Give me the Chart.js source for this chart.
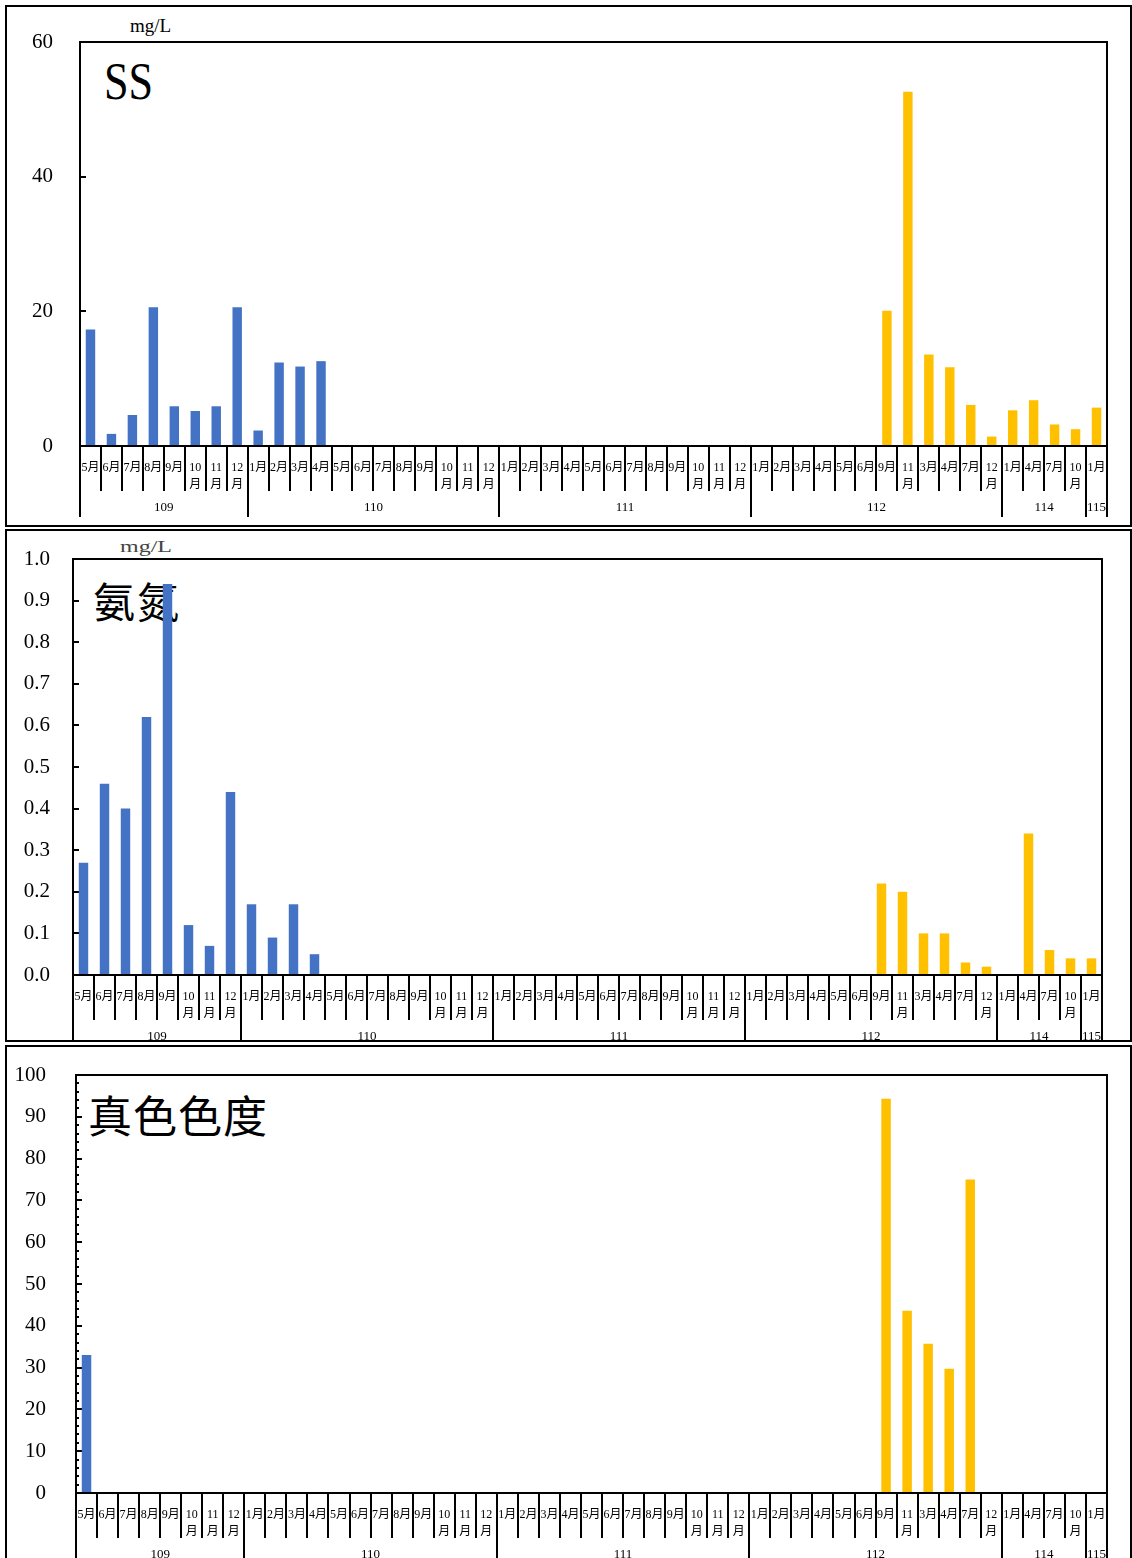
<!DOCTYPE html>
<html>
<head>
<meta charset="utf-8">
<script src="https://cdn.jsdelivr.net/npm/chart.js@4/dist/chart.umd.min.js"></script>
<style>
  body { margin: 0; background: #fff; width: 1132px; height: 1558px; overflow: hidden; position: relative; }
  .panel { position: absolute; left: 5px; width: 1123px; border: 2px solid #000; background: #fff; }
  .panel canvas { position: absolute; left: 0; top: 0; }
  .texto { position: absolute; line-height: 1; color: #000; white-space: nowrap; }
  .serif { font-family: "Liberation Serif", "Times New Roman", serif; }
  .cjk { font-family: "Noto Sans CJK TC", "Noto Sans CJK SC", sans-serif; }
</style>
</head>
<body>

<div class="panel" style="top:5px;height:518px;">
  <div class="texto serif" style="left:123px;top:9px;font-size:19px;">mg/L</div>
  <div class="texto serif" style="left:97px;top:49px;font-size:52px;transform:scaleX(0.85);transform-origin:left;">SS</div>
  <canvas id="graficaSS" width="1123" height="518"></canvas>
</div>

<div class="panel" style="top:529px;height:509px;">
  <div class="texto serif" style="left:113px;top:8px;font-size:16px;color:#444;transform:scaleX(1.5);transform-origin:left;">mg/L</div>
  <div class="texto cjk" style="left:86px;top:48px;font-size:42px;letter-spacing:2px;">氨氮</div>
  <canvas id="graficaNH3" width="1123" height="509"></canvas>
</div>

<div class="panel" style="top:1045px;height:520px;">
  <div class="texto cjk" style="left:81px;top:45px;font-size:44px;letter-spacing:1px;">真色色度</div>
  <canvas id="graficaColor" width="1123" height="511"></canvas>
</div>

<script>
// 年份與月份 (x 軸)
const yearGroups = ["109", "110", "111", "112", "114", "115"];
const monthsByYear = [
    ["5月", "6月", "7月", "8月", "9月", "10月", "11月", "12月"],
    ["1月", "2月", "3月", "4月", "5月", "6月", "7月", "8月", "9月", "10月", "11月", "12月"],
    ["1月", "2月", "3月", "4月", "5月", "6月", "7月", "8月", "9月", "10月", "11月", "12月"],
    ["1月", "2月", "3月", "4月", "5月", "6月", "9月", "11月", "3月", "4月", "7月", "12月"],
    ["1月", "4月", "7月", "10月"],
    ["1月"]
];

// 監測值
const ssValues = [
    17.3, 1.8, 4.6, 20.6, 5.9, 5.2, 5.9, 20.6,
    2.3, 12.4, 11.8, 12.6, null, null, null, null, null, null, null, null,
    null, null, null, null, null, null, null, null, null, null, null, null,
    null, null, null, null, null, null, 20.1, 52.6, 13.6, 11.7, 6.1, 1.4,
    5.3, 6.8, 3.2, 2.5,
    5.7
];
const nh3Values = [
    0.27, 0.46, 0.40, 0.62, 0.94, 0.12, 0.07, 0.44,
    0.17, 0.09, 0.17, 0.05, null, null, null, null, null, null, null, null,
    null, null, null, null, null, null, null, null, null, null, null, null,
    null, null, null, null, null, null, 0.22, 0.20, 0.10, 0.10, 0.03, 0.02,
    null, 0.34, 0.06, 0.04,
    0.04
];
const colorValues = [
    33, null, null, null, null, null, null, null,
    null, null, null, null, null, null, null, null, null, null, null, null,
    null, null, null, null, null, null, null, null, null, null, null, null,
    null, null, null, null, null, null, 94.3, 43.6, 35.7, 29.7, 75, null,
    null, null, null, null,
    null
];

// y 軸刻度
const ssTicks = [0, 20, 40, 60];
const nh3Ticks = ["0.0", "0.1", "0.2", "0.3", "0.4", "0.5", "0.6", "0.7", "0.8", "0.9", "1.0"];
const colorTicks = [0, 10, 20, 30, 40, 50, 60, 70, 80, 90, 100];

const colorAntes = "#4472C4";
const colorDespues = "#FFC000";

const categoryLabels = [];
const barColors = [];
const yearTickValues = [];
const yearNames = {};

let inicio = -0.5;
monthsByYear.forEach((months, i) => {
    months.forEach((m) => {
        const num = m.replace("月", "");
        categoryLabels.push(num.length > 1 ? [num, "月"] : m);
        barColors.push(Number(yearGroups[i]) <= 110 ? colorAntes : colorDespues);
    });
    const fin = inicio + months.length;
    const centro = (inicio + fin) / 2;
    yearTickValues.push(inicio, centro);
    yearNames[centro] = yearGroups[i];
    inicio = fin;
});
yearTickValues.push(inicio);

const serif = "'Liberation Serif', 'Times New Roman', serif";
const serifCjk = "'Liberation Serif', 'Noto Sans CJK TC', serif";

const marcoPlugin = {
    id: "marco",
    afterDraw(chart) {
        const {ctx, chartArea} = chart;
        ctx.save();
        ctx.strokeStyle = "#000";
        ctx.lineWidth = 2;
        ctx.strokeRect(chartArea.left, chartArea.top,
            chartArea.right - chartArea.left, chartArea.bottom - chartArea.top);
        ctx.restore();
    }
};

function crearGrafica(id, values, conf){
    const esMayor = (v) => conf.labels.some(t => Math.abs(Number(t) - v) < 1e-9);
    return new Chart(id, {
        type: "bar",
        data: {
            labels: categoryLabels,
            datasets: [{
                data: values,
                backgroundColor: barColors,
                borderWidth: 0,
                categoryPercentage: 1,
                barPercentage: 0.45
            }]
        },
        plugins: [marcoPlugin],
        options: {
            responsive: false,
            animation: false,
            layout: { padding: conf.padding },
            plugins: { legend: { display: false }, tooltip: { enabled: false } },
            scales: {
                x: {
                    type: "category",
                    position: "bottom",
                    weight: 0,
                    offset: true,
                    grid: { offset: true, drawOnChartArea: false, tickLength: 45, color: "#000", lineWidth: 2 },
                    border: { display: true, color: "#000", width: 2 },
                    ticks: {
                        autoSkip: false, maxRotation: 0, minRotation: 0, padding: -32, color: "#000",
                        font: { family: serifCjk, size: 12, lineHeight: 1.45 }
                    },
                    afterFit: (scale) => { scale.height = 45; }
                },
                anios: {
                    type: "linear",
                    position: "bottom",
                    weight: 1,
                    offset: false,
                    min: -0.5,
                    max: inicio,
                    afterBuildTicks: (scale) => { scale.ticks = yearTickValues.map(v => ({value: v})); },
                    grid: {
                        offset: false,
                        drawOnChartArea: false, tickLength: 26, lineWidth: 2,
                        color: (ctx) => (ctx.tick && yearNames[ctx.tick.value] !== undefined) ? "rgba(0,0,0,0)" : "#000"
                    },
                    border: { display: false },
                    ticks: {
                        autoSkip: false, maxRotation: 0, minRotation: 0, padding: -17, color: "#000",
                        font: { family: serif, size: 13 },
                        callback: (v) => yearNames[v] !== undefined ? yearNames[v] : ""
                    },
                    afterFit: (scale) => { scale.height = conf.yearHeight; }
                },
                y: {
                    min: Number(conf.labels[0]),
                    max: Number(conf.labels[conf.labels.length - 1]),
                    grid: {
                        drawOnChartArea: false, tickLength: -6, color: "#000", lineWidth: 2,
                        tickBorderDash: (ctx) => (ctx.tick && !esMayor(ctx.tick.value)) ? [0, 3, 3, 100] : []
                    },
                    border: { display: true, color: "#000", width: 2 },
                    ticks: {
                        stepSize: conf.step,
                        autoSkip: false,
                        padding: conf.labelGap + 6,
                        color: "#000",
                        font: { family: serif, size: 21 },
                        callback: (v) => esMayor(v) ? conf.format(v) : ""
                    },
                    afterFit: (scale) => {
                        scale.width = conf.axisWidth;
                        scale.paddingTop = 0;
                        scale.paddingBottom = 0;
                    }
                }
            }
        }
    });
}

crearGrafica("graficaSS", ssValues, {
    labels: ssTicks, step: 20, format: (v) => String(v),
    axisWidth: 73, labelGap: 27, yearHeight: 27,
    padding: { top: 35, right: 23, bottom: 7, left: 0 }
});

crearGrafica("graficaNH3", nh3Values, {
    labels: nh3Ticks, step: 0.1, format: (v) => v.toFixed(1),
    axisWidth: 66, labelGap: 23, yearHeight: 20,
    padding: { top: 28, right: 28, bottom: 0, left: 0 }
});

crearGrafica("graficaColor", colorValues, {
    labels: colorTicks, step: 2, format: (v) => String(v),
    axisWidth: 69, labelGap: 30, yearHeight: 20,
    padding: { top: 28, right: 23, bottom: 0, left: 0 }
});
</script>
</body>
</html>
